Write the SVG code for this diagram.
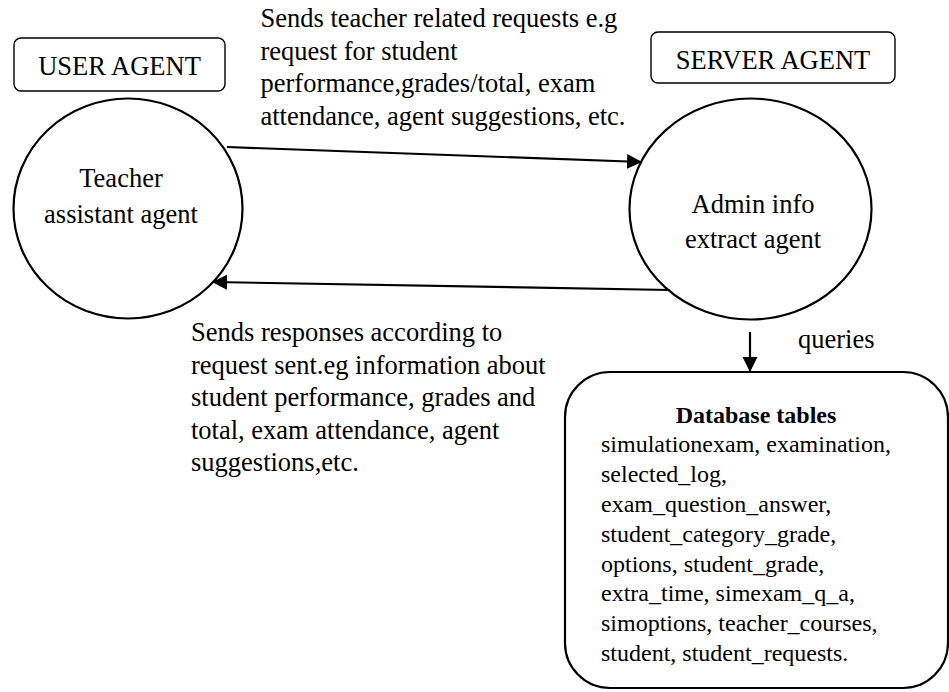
<svg xmlns="http://www.w3.org/2000/svg" width="949" height="692" viewBox="0 0 949 692">
<defs>
<style>
text{font-family:"Liberation Serif","Times New Roman",serif;fill:#000}
.lbl{font-size:26.5px}
.db{font-size:24px}
.box{fill:#fff;stroke:#000;stroke-width:1.4}
.node{fill:#fff;stroke:#000;stroke-width:2.2}
.conn{stroke:#000;stroke-width:2.2;fill:none}
</style>
<marker id="arr" markerUnits="userSpaceOnUse" markerWidth="16" markerHeight="16" viewBox="0 0 16 16" refX="15" refY="7.5" orient="auto">
<path d="M0,0 L15,7.5 L0,15 Z" fill="#000"/>
</marker>
</defs>
<rect width="949" height="692" fill="#fff"/>
<g id="user-agent-label">
<rect class="box" x="14" y="38" width="211" height="53" rx="7"/>
<text class="lbl" x="119.5" y="75" text-anchor="middle">USER AGENT</text>
</g>
<g id="server-agent-label">
<rect class="box" x="651" y="32" width="244" height="51" rx="7"/>
<text class="lbl" x="773" y="69" text-anchor="middle">SERVER AGENT</text>
</g>
<g id="teacher-assistant-agent">
<ellipse class="node" cx="128" cy="208.5" rx="114.5" ry="110"/>
<text class="lbl" x="121" y="187" text-anchor="middle">Teacher</text>
<text class="lbl" x="121" y="223" text-anchor="middle">assistant agent</text>
</g>
<g id="admin-info-extract-agent">
<ellipse class="node" cx="750.5" cy="209" rx="121" ry="110.5"/>
<text class="lbl" x="753" y="213" text-anchor="middle">Admin info</text>
<text class="lbl" x="753" y="248" text-anchor="middle">extract agent</text>
</g>
<g id="database-tables">
<rect class="node" x="565" y="372" width="383" height="316" rx="45"/>
<text class="db" x="756" y="423" text-anchor="middle" font-weight="bold">Database tables</text>
<text class="db">
<tspan x="601" y="452">simulationexam, examination,</tspan>
<tspan x="601" y="482">selected_log,</tspan>
<tspan x="601" y="512">exam_question_answer,</tspan>
<tspan x="601" y="542">student_category_grade,</tspan>
<tspan x="601" y="572">options, student_grade,</tspan>
<tspan x="601" y="601">extra_time, simexam_q_a,</tspan>
<tspan x="601" y="631">simoptions, teacher_courses,</tspan>
<tspan x="601" y="661">student, student_requests.</tspan>
</text>
</g>
<g id="connectors">
<line class="conn" x1="227" y1="147" x2="642" y2="162" marker-end="url(#arr)"/>
<line class="conn" x1="670" y1="290" x2="212" y2="282" marker-end="url(#arr)"/>
<line class="conn" x1="750" y1="332" x2="750" y2="372" marker-end="url(#arr)"/>
</g>
<g id="connector-labels">
<text class="lbl">
<tspan x="260.5" y="27">Sends teacher related requests e.g</tspan>
<tspan x="260.5" y="59.5">request for student</tspan>
<tspan x="260.5" y="92">performance,grades/total, exam</tspan>
<tspan x="260.5" y="124.5">attendance, agent suggestions, etc.</tspan>
</text>
<text class="lbl">
<tspan x="191" y="341">Sends responses according to</tspan>
<tspan x="191" y="373.5">request sent.eg information about</tspan>
<tspan x="191" y="406">student performance, grades and</tspan>
<tspan x="191" y="438.5">total, exam attendance, agent</tspan>
<tspan x="191" y="471">suggestions,etc.</tspan>
</text>
<text class="lbl" x="798" y="348">queries</text>
</g>
</svg>
